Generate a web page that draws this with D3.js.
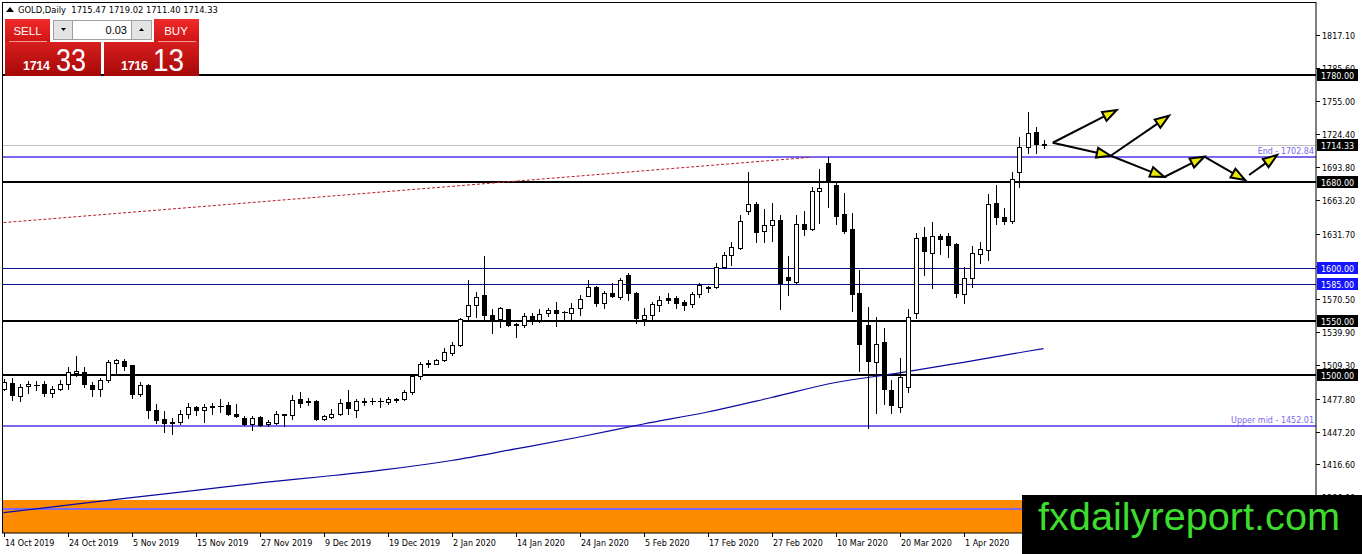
<!DOCTYPE html>
<html>
<head>
<meta charset="utf-8">
<script src="https://cdnjs.cloudflare.com/ajax/libs/d3/7.8.5/d3.min.js"></script>
<style>
body { margin: 0; background: #fff; }
svg { display: block; }
text { font-family: "DejaVu Sans", sans-serif; }
</style>
</head>
<body>
<div class="paint"></div>
<script>
// GOLD daily candles, 14 Oct 2019 .. 16 Apr 2020
var opens = [1487.3,1492.9,1480.2,1489.5,1491.0,1491.3,1483.3,1487.3,1491.3,1502.2,1502.5,1490.7,1487.3,1495.7,1511.2,1513.0,1509.0,1482.6,1490.7,1467.8,
  1459.1,1456.0,1456.0,1463.4,1470.2,1467.1,1470.5,1471.2,1472.4,1464.0,1460.3,1454.1,1460.9,1454.1,1455.7,1464.0,1462.5,1477.4,1475.8,1475.5,
  1459.4,1460.9,1464.0,1474.6,1467.8,1475.2,1475.5,1475.8,1474.9,1477.1,1477.7,1484.2,1498.8,1510.5,1510.5,1514.3,1520.8,1528.3,1555.0,1564.9,
  1574.2,1555.6,1551.9,1561.2,1547.2,1546.3,1555.3,1551.3,1557.5,1560.6,1558.6,1558.1,1562.1,1573.9,1581.7,1566.8,1576.1,1573.0,1593.2,1576.1,
  1552.5,1555.6,1565.5,1571.4,1571.4,1568.3,1565.9,1575.5,1581.4,1581.7,1600.9,1611.5,1618.6,1653.1,1659.3,1634.4,1640.0,1644.4,1591.6,1586.6,
  1640.6,1636.3,1671.7,1697.2,1677.3,1650.0,1636.0,1576.0,1546.7,1512.0,1530.4,1486.0,1470.5,1488.5,1557.4,1628.2,1614.0,1629.5,1629.5,1622.0,
  1575.1,1590.0,1612.4,1616.4,1659.9,1647.5,1643.8,1688.8,1712.1,1726.7,1715.47];
var highs = [1496.6,1497.5,1491.9,1494.4,1494.4,1494.4,1489.5,1495.0,1507.4,1517.4,1507.4,1493.5,1497.5,1513.6,1515.2,1514.9,1509.3,1493.2,1491.9,1472.7,
  1466.5,1460.3,1467.8,1474.0,1471.5,1473.3,1474.0,1477.7,1474.6,1473.3,1461.6,1462.2,1461.6,1457.8,1466.5,1464.0,1481.1,1483.9,1478.9,1477.1,
  1462.5,1468.7,1478.0,1486.4,1478.0,1478.9,1478.9,1478.9,1479.5,1478.9,1485.7,1499.7,1512.1,1513.6,1515.2,1524.9,1531.1,1552.8,1588.5,1577.0,
  1610.9,1561.2,1563.7,1561.5,1548.2,1557.5,1557.5,1561.2,1562.4,1568.0,1559.5,1567.4,1574.5,1588.5,1583.0,1578.6,1585.4,1590.1,1594.7,1577.7,
  1562.1,1568.0,1573.6,1576.7,1573.6,1569.9,1577.7,1586.0,1583.0,1604.7,1614.9,1623.9,1649.0,1689.1,1661.5,1654.3,1660.5,1648.7,1610.8,1649.0,
  1653.1,1674.8,1691.9,1702.8,1678.5,1669.8,1650.6,1597.8,1563.6,1554.3,1543.4,1495.3,1515.5,1561.2,1632.0,1638.2,1642.8,1631.3,1632.0,1623.3,
  1600.3,1620.2,1624.2,1668.6,1676.7,1655.3,1689.4,1722.0,1745.3,1730.7,1719.02];
var lows = [1485.7,1477.1,1475.8,1483.3,1485.7,1480.8,1479.5,1486.4,1487.0,1499.4,1488.8,1480.8,1480.2,1493.5,1501.9,1504.3,1478.9,1480.2,1460.3,1455.4,
  1447.0,1445.4,1454.7,1460.3,1462.5,1456.3,1463.4,1465.6,1462.5,1460.9,1453.2,1449.2,1452.9,1452.9,1454.1,1452.9,1459.4,1470.2,1472.4,1457.8,
  1458.5,1459.7,1462.5,1463.4,1460.9,1472.4,1472.7,1470.2,1472.7,1474.6,1476.4,1482.6,1496.6,1507.4,1509.9,1513.0,1518.6,1527.0,1552.5,1554.4,
  1551.3,1539.5,1545.0,1545.7,1535.1,1544.4,1547.5,1549.4,1555.0,1545.7,1551.3,1550.6,1555.9,1573.6,1564.3,1562.7,1572.4,1570.5,1569.9,1548.2,
  1546.6,1551.3,1560.0,1566.8,1562.1,1560.6,1563.7,1572.4,1577.7,1580.8,1599.3,1602.4,1617.0,1650.0,1624.2,1624.2,1625.1,1561.8,1574.5,1585.4,
  1630.4,1635.1,1641.9,1656.8,1640.6,1632.0,1559.9,1504.0,1450.8,1464.5,1473.0,1464.3,1465.8,1484.4,1552.8,1593.2,1580.7,1612.7,1610.2,1573.0,
  1567.4,1581.6,1604.6,1607.1,1640.7,1640.7,1641.9,1674.8,1707.1,1706.5,1711.40];
var closes = [1493.5,1481.1,1488.8,1491.3,1490.4,1483.3,1487.3,1491.3,1502.8,1504.0,1491.9,1487.0,1495.7,1512.4,1513.6,1508.7,1482.6,1490.4,1467.8,1457.8,
  1455.7,1455.3,1463.4,1470.2,1467.1,1470.2,1471.5,1471.5,1464.0,1461.6,1454.7,1460.3,1453.5,1456.3,1463.4,1462.8,1477.1,1474.0,1475.2,1459.1,
  1461.6,1464.0,1474.0,1469.3,1475.5,1475.8,1475.8,1475.5,1478.0,1477.7,1484.2,1498.8,1510.5,1511.2,1514.3,1521.6,1528.0,1551.9,1564.9,1573.0,
  1555.6,1551.3,1562.1,1546.6,1546.3,1555.3,1551.3,1556.9,1560.6,1557.5,1559.0,1562.1,1570.5,1581.7,1566.8,1576.7,1574.0,1588.5,1576.1,1552.8,
  1555.6,1566.2,1569.9,1570.2,1567.4,1565.2,1575.5,1583.6,1581.7,1601.0,1611.5,1618.9,1643.4,1659.3,1633.5,1640.0,1644.4,1585.4,1588.5,1640.6,
  1635.7,1671.7,1674.2,1680.1,1648.1,1634.1,1575.4,1528.8,1513.3,1528.7,1486.6,1472.0,1497.8,1553.7,1627.3,1615.8,1629.5,1626.4,1621.1,1576.1,
  1590.0,1613.3,1617.1,1659.0,1646.9,1643.8,1682.3,1712.7,1725.8,1715.2,1714.33];

var dateLabels = ["14 Oct 2019","24 Oct 2019","5 Nov 2019","15 Nov 2019","27 Nov 2019","9 Dec 2019","19 Dec 2019","2 Jan 2020",
  "14 Jan 2020","24 Jan 2020","5 Feb 2020","17 Feb 2020","27 Feb 2020","10 Mar 2020","20 Mar 2020","1 Apr 2020"];
var priceTicks = ["1817.10","1785.60","1755.00","1724.40","1693.80","1663.20","1631.70","1601.10","1570.50","1539.90","1509.30",
  "1477.80","1447.20","1416.60","1386.00"];

// moving average read every 8 bars
var maIdx = [0,8,16,24,32,40,48,56,64,72,80,88,96,104,112,120,128,130];
var maValues = [1371.7,1378.7,1385.8,1392.4,1399.4,1405.4,1412.0,1420.3,1431.1,1442.2,1454.3,1465.5,1479.0,1493.0,1501.9,1511.8,1522.1,1524.5];

var blackLevels = [1780, 1680, 1550, 1500];
var navyLevels = [1600, 1585];
var purpleLevels = [1702.84, 1452.01, 1375.4];
var purpleLabels = ["End - 1702.84", "Upper mid - 1452.01", ""];
var boxLevels = [1780, 1714.33, 1680, 1600, 1585, 1550, 1500];
var boxColors = ["black", "black", "black", "blue", "blue", "black", "black"];
var bidPrice = 1714.33;
var orangeZone = [1383.5, 1300];
var trendLine = [[0, 1642.0], [100.8, 1702.8]];
var arrows = [
  [[131.15, 1716.4], [139.15, 1746.9]],
  [[131.15, 1716.4], [138.4, 1704.3]],
  [[138.4, 1704.3], [145.7, 1741.6]],
  [[138.4, 1704.3], [145.1, 1684.5]],
  [[145.1, 1684.5], [150.1, 1703.4]],
  [[150.1, 1703.4], [155.2, 1681.7]],
  [[155.7, 1686.3], [159.2, 1705.0]]
];
var headerText = "GOLD,Daily  1715.47 1719.02 1711.40 1714.33";
var sellQuote = ["1714", "33"];
var buyQuote = ["1716", "13"];
var lotSize = "0.03";

var main;
(function (main) {
    const W = 1362, H = 554;
    const plotL = 2.5, plotR = 1316, plotT = 2.5, plotB = 533;

    function ini() {
        let bars = opens.map((o, i) => ({ i: i, o: o, h: highs[i], l: lows[i], c: closes[i] }));
        let svg = d3.select(".paint").append("svg").attr("width", W).attr("height", H);
        let x = d3.scaleLinear().domain([0, 130]).range([3.5, 1043.5]);
        let y = d3.scaleLinear().domain([1452, 1780]).range([426.5, 74.5]);

        let defs = svg.append("defs");
        defs.append("clipPath").attr("id", "clip").append("rect")
            .attr("x", plotL).attr("y", plotT).attr("width", plotR - plotL).attr("height", plotB - plotT);
        gradient(defs, "gLabel", "#f02a2a", "#d01414");
        gradient(defs, "gBig", "#d81e1e", "#a50808");

        let plot = svg.append("g").attr("clip-path", "url(#clip)");
        plot.append("rect").attr("x", plotL).attr("y", y(orangeZone[0]))
            .attr("width", plotR - plotL).attr("height", y(orangeZone[1]) - y(orangeZone[0])).attr("fill", "#ff8c00");

        plot.append("line").attr("x1", plotL).attr("x2", plotR)
            .attr("y1", Math.round(y(bidPrice)) + 0.5).attr("y2", Math.round(y(bidPrice)) + 0.5)
            .attr("stroke", "#c0c0c0");
        hLines(plot, navyLevels, y, "#0c0c90", 1, 0.5);
        hLines(plot, purpleLevels, y, "#7b68ee", 2, 0);
        hLines(plot, blackLevels, y, "#000", 2, 0);

        plot.selectAll(".lvlText").data(purpleLevels).join("text").classed("lvlText", true)
            .attr("x", 1314).attr("y", d => y(d) - 3).attr("text-anchor", "end")
            .attr("font-size", 8).attr("fill", "#7b68ee")
            .text((d, i) => purpleLabels[i]);

        plot.append("line")
            .attr("x1", x(trendLine[0][0])).attr("y1", y(trendLine[0][1]))
            .attr("x2", x(trendLine[1][0])).attr("y2", y(trendLine[1][1]))
            .attr("stroke", "#b81c2c").attr("stroke-width", 1).attr("stroke-dasharray", "3,2");

        let ma = d3.line().x(d => x(d[0])).y(d => y(d[1])).curve(d3.curveMonotoneX);
        plot.append("path").datum(maIdx.map((d, i) => [d, maValues[i]]))
            .attr("d", ma).attr("fill", "none").attr("stroke", "#0a0aa0").attr("stroke-width", 1.2);

        joinCandles(plot, bars, x, y);
        drawArrows(plot, x, y);

        // frame and axes
        svg.append("rect").attr("x", plotL).attr("y", plotT).attr("width", plotR - plotL).attr("height", plotB - plotT)
            .attr("fill", "none").attr("stroke", "#000").attr("stroke-width", 1);

        let yAx = svg.append("g");
        yAx.selectAll(".tick").data(priceTicks).join("g").classed("tick", true)
            .attr("transform", d => "translate(0," + Math.round(y(+d)) + ")")
            .each(function (d) {
                let g = d3.select(this);
                g.append("line").attr("x1", plotR).attr("x2", plotR + 4).attr("y1", 0.5).attr("y2", 0.5).attr("stroke", "#000");
                g.append("text").attr("x", plotR + 6).attr("y", 3.5).attr("font-size", 8).text(d);
            });
        yAx.selectAll(".box").data(boxLevels).join("g").classed("box", true)
            .attr("transform", d => "translate(0," + Math.round(y(d)) + ")")
            .each(function (d, i) {
                let g = d3.select(this);
                g.append("rect").attr("x", plotR + 1).attr("y", -6).attr("width", 41).attr("height", 12)
                    .attr("fill", boxColors[i] === "blue" ? "#1414ff" : "#000");
                g.append("text").attr("x", plotR + 5).attr("y", 3.5).attr("font-size", 8).attr("fill", "#fff")
                    .text(d.toFixed(2));
            });

        let xAx = svg.append("g");
        xAx.selectAll(".dtick").data(dateLabels).join("g").classed("dtick", true)
            .attr("transform", (d, i) => "translate(" + Math.round(x(i * 8)) + ",0)")
            .each(function (d) {
                let g = d3.select(this);
                g.append("line").attr("x1", 0.5).attr("x2", 0.5).attr("y1", plotB).attr("y2", plotB + 4).attr("stroke", "#000");
                g.append("text").attr("x", 1).attr("y", 546).attr("font-size", 8).text(d);
            });

        drawPanel(svg);

        svg.append("rect").attr("x", 1022).attr("y", 495).attr("width", 340).attr("height", 59).attr("fill", "#000");
        svg.append("text").attr("x", 1038).attr("y", 530)
            .style("font-family", "'Liberation Sans', Arial, sans-serif").attr("font-size", 38)
            .attr("textLength", 302).attr("lengthAdjust", "spacingAndGlyphs")
            .attr("fill", "#3ddc2e").text("fxdailyreport.com");
    }
    main.ini = ini;

    function gradient(defs, id, c1, c2) {
        let g = defs.append("linearGradient").attr("id", id).attr("x1", 0).attr("y1", 0).attr("x2", 0).attr("y2", 1);
        g.append("stop").attr("offset", "0%").attr("stop-color", c1);
        g.append("stop").attr("offset", "100%").attr("stop-color", c2);
    }

    function hLines(plot, levels, y, color, width, shift) {
        plot.append("g").attr("shape-rendering", "crispEdges")
            .selectAll("line").data(levels).join("line")
            .attr("x1", plotL).attr("x2", plotR)
            .attr("y1", d => Math.round(y(d)) + shift).attr("y2", d => Math.round(y(d)) + shift)
            .attr("stroke", color).attr("stroke-width", width);
    }

    function joinCandles(plot, bars, x, y) {
        let joinBars = plot.append("g").attr("shape-rendering", "crispEdges")
            .selectAll(".candle").data(bars, d => d.i);
        let gBar = joinBars.enter().append("g").classed("candle", true);
        gBar.each(function (d) {
            let g = d3.select(this);
            let cx = Math.round(x(d.i)) + 0.5;
            let top = Math.round(y(Math.max(d.o, d.c)));
            let bot = Math.round(y(Math.min(d.o, d.c)));
            g.append("line").attr("x1", cx).attr("x2", cx)
                .attr("y1", Math.round(y(d.h))).attr("y2", Math.round(y(d.l)) + 1)
                .attr("stroke", "#000");
            if (bot - top < 1) {
                g.append("line").attr("x1", cx - 3).attr("x2", cx + 3)
                    .attr("y1", top + 0.5).attr("y2", top + 0.5).attr("stroke", "#000");
            }
            else {
                g.append("rect").attr("x", cx - 2).attr("y", top + 0.5)
                    .attr("width", 4).attr("height", bot - top)
                    .attr("fill", d.c >= d.o ? "#fff" : "#000").attr("stroke", "#000");
            }
        });
    }

    function drawArrows(plot, x, y) {
        let gArrow = plot.append("g").selectAll(".arrow").data(arrows).join("g").classed("arrow", true);
        gArrow.each(function (d) {
            let g = d3.select(this);
            let x1 = x(d[0][0]), y1 = y(d[0][1]), x2 = x(d[1][0]), y2 = y(d[1][1]);
            let len = Math.hypot(x2 - x1, y2 - y1);
            let ux = (x2 - x1) / len, uy = (y2 - y1) / len;
            let bx = x2 - ux * 14, by = y2 - uy * 14;
            g.append("line").attr("x1", x1).attr("y1", y1).attr("x2", bx).attr("y2", by)
                .attr("stroke", "#000").attr("stroke-width", 2);
            let pts = [[x2, y2], [bx - uy * 5, by + ux * 5], [bx + uy * 5, by - ux * 5]];
            g.append("polygon").attr("points", pts.map(p => p.join(",")).join(" "))
                .attr("fill", "#e8e800").attr("stroke", "#000").attr("stroke-width", 2)
                .attr("stroke-linejoin", "miter");
        });
    }

    function drawPanel(svg) {
        let p = svg.append("g");
        p.append("path").attr("d", "M6,12 L10,7 L14,12 Z").attr("fill", "#000");
        p.append("text").attr("x", 18).attr("y", 13).attr("font-size", 8.4)
            .attr("xml:space", "preserve").text(headerText);

        p.append("rect").attr("x", 5).attr("y", 19).attr("width", 45).attr("height", 23).attr("fill", "url(#gLabel)");
        p.append("rect").attr("x", 154).attr("y", 19).attr("width", 45).attr("height", 23).attr("fill", "url(#gLabel)");
        p.append("rect").attr("x", 5).attr("y", 42).attr("width", 96).attr("height", 34).attr("fill", "url(#gBig)");
        p.append("rect").attr("x", 104).attr("y", 42).attr("width", 95).attr("height", 34).attr("fill", "url(#gBig)");
        p.append("line").attr("x1", 9).attr("x2", 47).attr("y1", 41.5).attr("y2", 41.5).attr("stroke", "#f49a9a");
        p.append("line").attr("x1", 158).attr("x2", 196).attr("y1", 41.5).attr("y2", 41.5).attr("stroke", "#f49a9a");

        p.append("rect").attr("x", 53.5).attr("y", 20.5).attr("width", 19).attr("height", 19).attr("fill", "#e4e4e4").attr("stroke", "#a0a0a0");
        p.append("rect").attr("x", 72.5).attr("y", 20.5).attr("width", 59).attr("height", 19).attr("fill", "#fff").attr("stroke", "#a0a0a0");
        p.append("rect").attr("x", 131.5).attr("y", 20.5).attr("width", 20).attr("height", 19).attr("fill", "#e4e4e4").attr("stroke", "#a0a0a0");
        p.append("path").attr("d", "M61,28 L66,28 L63.5,31 Z").attr("fill", "#000");
        p.append("path").attr("d", "M139,31 L144,31 L141.5,28 Z").attr("fill", "#000");
        p.append("text").attr("x", 127).attr("y", 34).attr("text-anchor", "end").attr("font-size", 11)
            .style("font-family", "'Liberation Sans', Arial, sans-serif").text(lotSize);

        let fam = "'Liberation Sans', Arial, sans-serif";
        p.append("text").attr("x", 27.5).attr("y", 35).attr("text-anchor", "middle").attr("font-size", 11.5)
            .attr("fill", "#fff").style("font-family", fam).text("SELL");
        p.append("text").attr("x", 176).attr("y", 35).attr("text-anchor", "middle").attr("font-size", 11.5)
            .attr("fill", "#fff").style("font-family", fam).text("BUY");

        p.append("text").attr("x", 23).attr("y", 70).attr("font-size", 12.5).attr("font-weight", "bold")
            .attr("fill", "#fff").style("font-family", fam)
            .attr("textLength", 27).text(sellQuote[0]);
        p.append("text").attr("x", 56).attr("y", 71).attr("font-size", 31)
            .attr("fill", "#fff").style("font-family", fam)
            .attr("textLength", 30).attr("lengthAdjust", "spacingAndGlyphs").text(sellQuote[1]);
        p.append("text").attr("x", 121).attr("y", 70).attr("font-size", 12.5).attr("font-weight", "bold")
            .attr("fill", "#fff").style("font-family", fam)
            .attr("textLength", 27).text(buyQuote[0]);
        p.append("text").attr("x", 153).attr("y", 71).attr("font-size", 31)
            .attr("fill", "#fff").style("font-family", fam)
            .attr("textLength", 31).attr("lengthAdjust", "spacingAndGlyphs").text(buyQuote[1]);
    }
})(main || (main = {}));
let _main = main.ini();
</script>
</body>
</html>
